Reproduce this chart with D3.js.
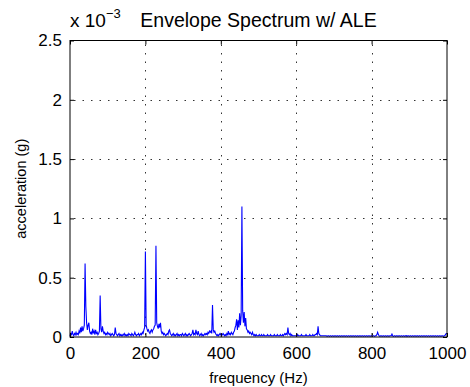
<!DOCTYPE html>
<html><head><meta charset="utf-8">
<script src="https://cdn.jsdelivr.net/npm/d3@7"></script>
<style>
body{margin:0;background:#fff;}
text{font-family:"Liberation Sans",Arial,Helvetica,sans-serif;fill:#000;}
</style></head>
<body><svg id="c" width="470" height="387"></svg>
<script>
// Envelope spectrum, amplitude in units of 1e-3 g, bins every 2 Hz from 0 to 1000 Hz
const binHz = 2;
const amplitude = [
0.01,0.03,0.02,0.05,0.02,0.01,0.03,0.02,0.04,0.02,
0.03,0.02,0.05,0.03,0.08,0.04,0.09,0.05,0.07,0.10,
0.62,0.26,0.12,0.06,0.10,0.12,0.05,0.03,0.04,0.02,
0.07,0.03,0.05,0.02,0.06,0.03,0.04,0.02,0.03,0.05,
0.35,0.07,0.04,0.09,0.05,0.03,0.04,0.02,0.03,0.02,
0.04,0.03,0.02,0.03,0.01,0.02,0.03,0.02,0.01,0.02,
0.08,0.03,0.02,0.01,0.02,0.03,0.01,0.02,0.01,0.02,
0.01,0.02,0.03,0.01,0.02,0.01,0.02,0.01,0.03,0.02,
0.02,0.01,0.03,0.02,0.01,0.02,0.04,0.02,0.01,0.02,
0.02,0.03,0.01,0.02,0.03,0.02,0.04,0.03,0.06,0.08,
0.72,0.10,0.07,0.05,0.06,0.04,0.03,0.05,0.06,0.04,
0.06,0.07,0.09,0.10,0.77,0.12,0.09,0.07,0.11,0.08,
0.12,0.05,0.03,0.04,0.02,0.03,0.02,0.01,0.02,0.03,
0.02,0.05,0.06,0.03,0.02,0.01,0.02,0.03,0.01,0.02,
0.01,0.02,0.03,0.01,0.02,0.01,0.02,0.02,0.01,0.03,
0.02,0.01,0.02,0.03,0.01,0.02,0.01,0.02,0.03,0.02,
0.01,0.02,0.03,0.06,0.02,0.03,0.02,0.06,0.03,0.02,
0.05,0.02,0.01,0.02,0.03,0.01,0.02,0.01,0.02,0.03,
0.02,0.03,0.02,0.04,0.03,0.05,0.04,0.05,0.03,0.27,
0.06,0.04,0.05,0.03,0.02,0.01,0.02,0.01,0.02,0.03,
0.02,0.01,0.02,0.03,0.02,0.01,0.02,0.01,0.03,0.02,
0.05,0.02,0.03,0.02,0.04,0.03,0.02,0.04,0.05,0.08,
0.10,0.15,0.06,0.14,0.08,0.20,0.10,0.18,1.10,0.22,
0.12,0.21,0.09,0.16,0.07,0.06,0.04,0.05,0.03,0.04,
0.03,0.02,0.04,0.02,0.01,0.02,0.01,0.02,0.01,0.01,
0.01,0.02,0.01,0.01,0.02,0.01,0.01,0.02,0.01,0.01,
0.01,0.01,0.02,0.01,0.01,0.01,0.02,0.01,0.01,0.01,
0.01,0.02,0.01,0.01,0.01,0.02,0.01,0.01,0.01,0.02,
0.01,0.01,0.02,0.01,0.02,0.03,0.02,0.03,0.02,0.08,
0.03,0.02,0.03,0.01,0.02,0.01,0.01,0.01,0.01,0.01,
0.01,0.01,0.02,0.01,0.01,0.01,0.01,0.02,0.01,0.01,
0.01,0.01,0.01,0.02,0.01,0.01,0.01,0.01,0.02,0.01,
0.01,0.01,0.02,0.01,0.01,0.02,0.02,0.03,0.02,0.09,
0.03,0.02,0.01,0.01,0.01,0.01,0.01,0.01,0.01,0.01,
0.01,0.005,0.01,0.01,0.005,0.01,0.01,0.005,0.01,0.01,
0.005,0.01,0.01,0.005,0.01,0.01,0.005,0.01,0.01,0.005,
0.01,0.01,0.005,0.01,0.01,0.005,0.01,0.01,0.005,0.01,
0.01,0.005,0.01,0.01,0.005,0.01,0.01,0.005,0.01,0.01,
0.005,0.01,0.01,0.005,0.01,0.01,0.005,0.01,0.01,0.005,
0.01,0.01,0.005,0.01,0.01,0.005,0.01,0.01,0.005,0.01,
0.01,0.005,0.01,0.01,0.005,0.01,0.01,0.02,0.04,0.02,
0.01,0.005,0.01,0.01,0.005,0.01,0.01,0.005,0.01,0.01,
0.005,0.01,0.01,0.005,0.01,0.01,0.01,0.025,0.01,0.005,
0.01,0.01,0.005,0.01,0.01,0.005,0.01,0.01,0.005,0.01,
0.01,0.005,0.01,0.01,0.005,0.01,0.012,0.005,0.01,0.01,
0.005,0.01,0.01,0.005,0.01,0.01,0.005,0.01,0.01,0.005,
0.01,0.01,0.005,0.01,0.01,0.005,0.01,0.01,0.005,0.01,
0.01,0.005,0.01,0.01,0.005,0.01,0.01,0.005,0.01,0.01,
0.005,0.01,0.01,0.005,0.01,0.01,0.005,0.01,0.01,0.005,
0.01,0.01,0.005,0.01,0.01,0.005,0.01,0.01,0.02,0.03,
0.03
];
const xTicks = [0,200,400,600,800,1000];
const xTickLabels = ["0","200","400","600","800","1000"];
const yTicks = [0,0.5,1,1.5,2,2.5];
const yTickLabels = ["0","0.5","1","1.5","2","2.5"];
const titleText = "Envelope Spectrum w/ ALE";
const xLabel = "frequency (Hz)";
const yLabel = "acceleration (g)";

const m = {left:70, right:447, top:40.5, bottom:337};
const svg = d3.select("#c");
const x = d3.scaleLinear().domain([0,1000]).range([m.left,m.right]);
const y = d3.scaleLinear().domain([0,2.5]).range([m.bottom,m.top]);
const W = m.right-m.left, H = m.bottom-m.top;

// grid
const g = svg.append("g");
g.selectAll(".gx").data(xTicks.slice(1,-1)).enter().append("line")
  .attr("x1",d=>Math.round(x(d))+0.5).attr("x2",d=>Math.round(x(d))+0.5).attr("y1",m.top+4).attr("y2",m.bottom)
  .attr("stroke","#333").attr("stroke-width",1).attr("stroke-dasharray","1.5,7");
g.selectAll(".gy").data(yTicks.slice(1,-1)).enter().append("line")
  .attr("y1",d=>Math.round(y(d))+0.5).attr("y2",d=>Math.round(y(d))+0.5).attr("x1",m.left+4).attr("x2",m.right)
  .attr("stroke","#333").attr("stroke-width",1).attr("stroke-dasharray","1.5,7");

// data line
const line = d3.line().x((d,i)=>x(i*binHz)).y(d=>y(d));
svg.append("path").datum(amplitude).attr("d",line)
  .attr("fill","none").attr("stroke","#0000ff").attr("stroke-width",1.1).attr("stroke-linejoin","miter");

// axes (MATLAB style, inward ticks on all sides)
const ax = svg.append("g");
ax.append("g").attr("transform",`translate(0,${m.bottom})`)
  .call(d3.axisBottom(x).tickValues(xTicks).tickSizeInner(-4).tickSizeOuter(0).tickPadding(10).tickFormat((d,i)=>xTickLabels[i]))
  .call(s=>s.select(".domain").remove());
ax.append("g").attr("transform",`translate(0,${m.top})`)
  .call(d3.axisTop(x).tickValues(xTicks).tickSizeInner(-4).tickSizeOuter(0).tickFormat(""))
  .call(s=>s.select(".domain").remove());
ax.append("g").attr("transform",`translate(${m.left},0)`)
  .call(d3.axisLeft(y).tickValues(yTicks).tickSizeInner(-4).tickSizeOuter(0).tickPadding(8).tickFormat((d,i)=>yTickLabels[i]))
  .call(s=>s.select(".domain").remove());
ax.append("g").attr("transform",`translate(${m.right},0)`)
  .call(d3.axisRight(y).tickValues(yTicks).tickSizeInner(-4).tickSizeOuter(0).tickFormat(""))
  .call(s=>s.select(".domain").remove());
ax.selectAll("text").attr("font-size",17).attr("font-family","Liberation Sans, Arial, sans-serif").attr("fill","#000");
ax.selectAll("line").attr("stroke","#000");
svg.append("rect").attr("x",m.left).attr("y",m.top).attr("width",W).attr("height",H)
  .attr("fill","none").attr("stroke","#000").attr("stroke-width",1);

// exponent label
const ex = svg.append("text").attr("x",70).attr("y",27).attr("font-size",19);
ex.append("tspan").text("x 10");
ex.append("tspan").attr("dy",-9).attr("font-size",13).text("\u22123");

svg.append("text").attr("x",(m.left+m.right)/2).attr("y",27).attr("text-anchor","middle")
  .attr("font-size",19.5).text(titleText);
svg.append("text").attr("x",(m.left+m.right)/2).attr("y",383).attr("text-anchor","middle")
  .attr("font-size",15).text(xLabel);
svg.append("text").attr("transform",`translate(26,${(m.top+m.bottom)/2}) rotate(-90)`).attr("text-anchor","middle")
  .attr("font-size",14.5).text(yLabel);
</script></body></html>
